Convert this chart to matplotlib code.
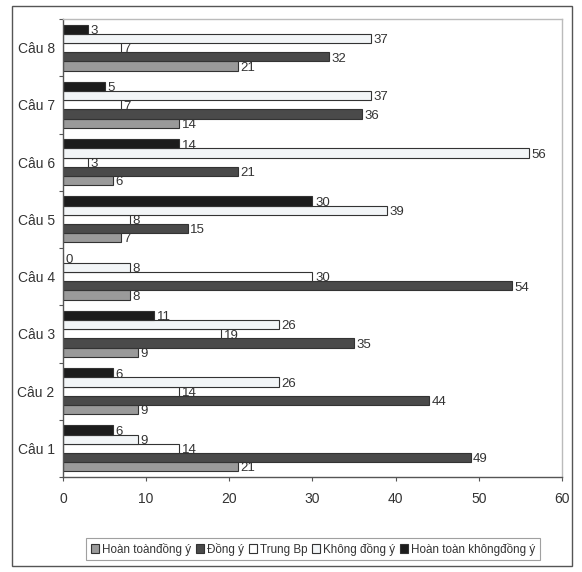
import matplotlib
matplotlib.use("Agg")
import matplotlib.pyplot as plt
from matplotlib.patches import Rectangle
import numpy as np

plt.rcParams['font.family'] = ['Liberation Sans', 'DejaVu Sans']

categories = ["Câu 1", "Câu 2", "Câu 3", "Câu 4", "Câu 5", "Câu 6", "Câu 7", "Câu 8"]
series_names = ["Hoàn toànđồng ý", "Đồng ý", "Trung Bp", "Không đồng ý", "Hoàn toàn khôngđồng ý"]
hoan_toan_dong_y = [21, 9, 9, 8, 7, 6, 14, 21]
dong_y = [49, 44, 35, 54, 15, 21, 36, 32]
trung_binh = [14, 14, 19, 30, 8, 3, 7, 7]
khong_dong_y = [9, 26, 26, 8, 39, 56, 37, 37]
hoan_toan_khong_dong_y = [6, 6, 11, 0, 30, 14, 5, 3]
x_ticks = [0, 10, 20, 30, 40, 50, 60]

series = [hoan_toan_dong_y, dong_y, trung_binh, khong_dong_y, hoan_toan_khong_dong_y]
colors = ["#9a9a9a", "#4a4a4a", "#ffffff", "#f2f5f7", "#1c1c1c"]

fig = plt.figure(figsize=(5.82, 5.72), dpi=100)
fig.patch.set_facecolor("white")
ax = fig.add_axes([63 / 582, 1 - 477 / 572, (562 - 63) / 582, (477 - 19) / 572])

# outer frame around the whole chart
fig.patches.append(Rectangle((12 / 582, 1 - 566 / 572), (572 - 12) / 582, (566 - 6) / 572,
                             transform=fig.transFigure, fill=False,
                             edgecolor="#555555", linewidth=1.0))

y = np.arange(len(categories))
bar_h = 0.16
n = len(series)
for i, (vals, col) in enumerate(zip(series, colors)):
    offs = (i - (n - 1) / 2) * bar_h
    ax.barh(y + offs, vals, height=bar_h, color=col, edgecolor="#333333",
            linewidth=0.8, label=series_names[i])
    for yy, v in zip(y + offs, vals):
        ax.text(v + 0.3, yy - 0.03, str(v), va="center", ha="left",
                fontsize=9.5, color="#333333")

ax.set_xlim(0, 60)
ax.set_ylim(-0.5, 7.5)
ax.set_xticks(x_ticks)
ax.set_xticklabels([str(t) for t in x_ticks], fontsize=10, color="#333333")
ax.set_yticks(y)
ax.set_yticklabels(categories, fontsize=10, color="#333333")
ax.tick_params(axis="y", length=0, pad=6)
ax.tick_params(axis="x", length=3, width=0.8, color="#555555", pad=8)
# category boundary ticks on the value axis
ax.set_yticks(np.arange(-0.5, 8, 1), minor=True)
ax.tick_params(axis="y", which="minor", length=3, width=0.8, color="#555555")

for side in ["left", "bottom"]:
    ax.spines[side].set_color("#555555")
    ax.spines[side].set_linewidth(1.0)
for side in ["top", "right"]:
    ax.spines[side].set_color("#bbbbbb")
    ax.spines[side].set_linewidth(1.0)

leg = fig.legend(loc="center", bbox_to_anchor=(313 / 582, 1 - 549 / 572), ncol=5,
                 fontsize=8.4, frameon=True, fancybox=False, edgecolor="#888888",
                 handlelength=0.7, handleheight=0.7, handletextpad=0.25,
                 columnspacing=0.4, borderpad=0.4)
leg.get_frame().set_linewidth(0.8)
for t in leg.get_texts():
    t.set_color("#333333")

fig.savefig("out.png", dpi=100, facecolor="white")
